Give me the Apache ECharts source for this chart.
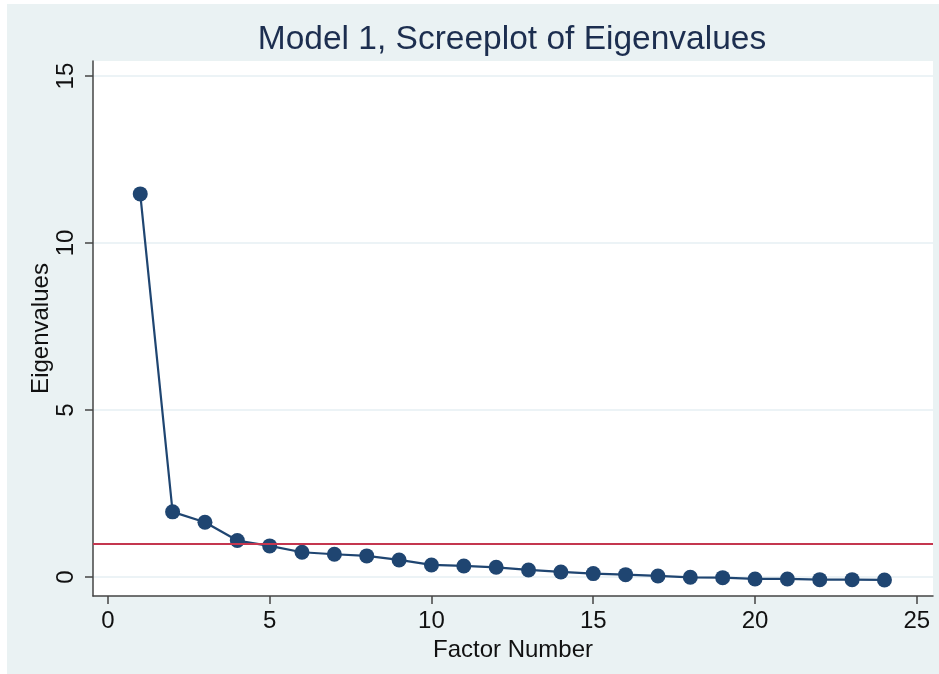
<!DOCTYPE html>
<html>
<head>
<meta charset="utf-8">
<script src="https://cdn.jsdelivr.net/npm/echarts@6/dist/echarts.min.js"></script>
<style>
html,body{margin:0;padding:0;background:#ffffff;}
#chart{width:939px;height:674px;}
</style>
</head>
<body>
<div id="chart"></div>
<script>
var factors = [1,2,3,4,5,6,7,8,9,10,11,12,13,14,15,16,17,18,19,20,21,22,23,24];
var eigenvalues = [11.47,1.95,1.64,1.09,0.93,0.74,0.68,0.63,0.51,0.36,0.33,0.29,0.21,0.15,0.10,0.07,0.03,-0.01,-0.02,-0.06,-0.06,-0.08,-0.08,-0.09];
var xTicks = [0,5,10,15,20,25];
var yTicks = [0,5,10,15];
var refLine = 1;

var chart = echarts.init(document.getElementById('chart'), null, {renderer:'canvas'});
var font = '"Liberation Sans", Arial, sans-serif';
chart.setOption({
  backgroundColor: '#ffffff',
  animation: false,
  graphic: [{
    type: 'rect', z: -10, silent: true,
    shape: {x: 7, y: 4, width: 932, height: 670},
    style: {fill: '#eaf2f3'}
  }],
  title: {
    text: 'Model 1, Screeplot of Eigenvalues',
    left: 507, top: 18, textAlign: 'center',
    textStyle: {fontFamily: font, fontSize: 33.5, fontWeight: 'normal', color: '#1c2e4f'}
  },
  grid: {
    left: 93, top: 61, right: 6, bottom: 78,
    show: true, backgroundColor: '#ffffff', borderWidth: 0
  },
  xAxis: {
    type: 'value', min: -0.46, max: 25.5,
    name: 'Factor Number', nameLocation: 'middle', nameGap: 42,
    nameTextStyle: {fontFamily: font, fontSize: 24, color: '#111'},
    axisLine: {show: true, onZero: false, lineStyle: {color: '#444', width: 1.5}},
    axisTick: {show: true, length: 8, customValues: xTicks, lineStyle: {color: '#444', width: 1.5}},
    axisLabel: {customValues: xTicks, fontFamily: font, fontSize: 24, color: '#111', margin: 13},
    splitLine: {show: false}
  },
  yAxis: {
    type: 'value', min: -0.57, max: 15.45,
    name: 'Eigenvalues', nameLocation: 'middle', nameGap: 40, nameRotate: 90,
    nameMoveOverlap: false,
    nameTextStyle: {fontFamily: font, fontSize: 24, color: '#111'},
    axisLine: {show: true, onZero: false, lineStyle: {color: '#444', width: 1.5}},
    axisTick: {show: true, length: 8, customValues: yTicks, lineStyle: {color: '#444', width: 1.5}},
    axisLabel: {customValues: yTicks, rotate: 90, fontFamily: font, fontSize: 24, color: '#111', margin: 15},
    splitLine: {show: true, lineStyle: {color: '#e6eff3', width: 1.5}}
  },
  series: [{
    type: 'line',
    data: factors.map(function(f, i){ return [f, eigenvalues[i]]; }),
    symbol: 'circle', symbolSize: 15,
    itemStyle: {color: '#1f4571'},
    lineStyle: {color: '#1f4571', width: 2.2},
    markLine: {
      silent: true, symbol: ['none','none'], label: {show: false},
      lineStyle: {color: '#c4364f', width: 2, type: 'solid'},
      data: [{yAxis: refLine}]
    },
    z: 3
  }]
});
</script>
</body>
</html>
